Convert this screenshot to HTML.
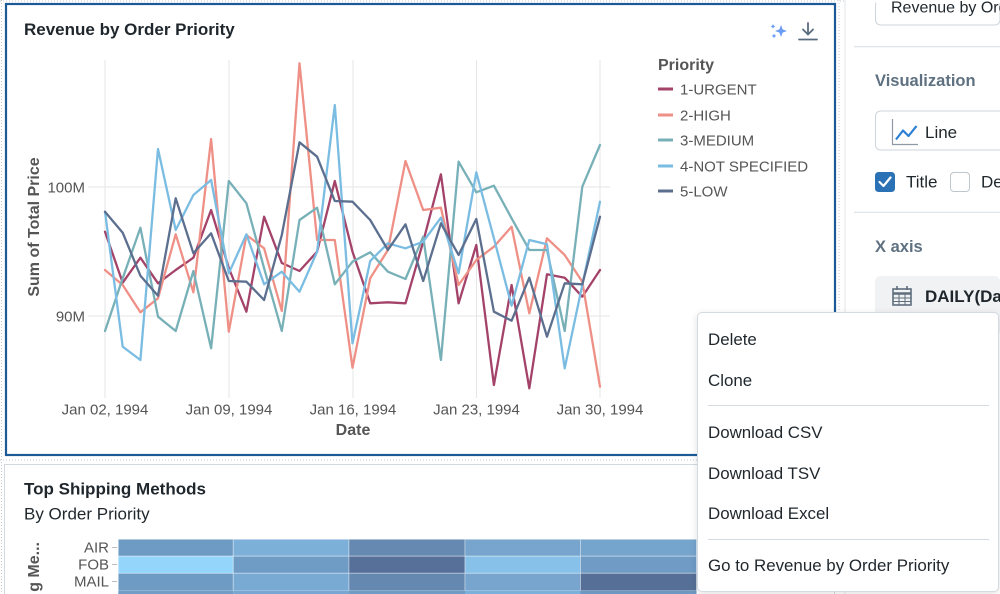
<!DOCTYPE html>
<html><head><meta charset="utf-8">
<style>
html,body{margin:0;padding:0;width:1000px;height:594px;overflow:hidden;}
body{position:relative;background:#fff;font-family:"Liberation Sans",Arial,sans-serif;}
.abs{position:absolute;display:block;}
.menu{position:absolute;left:697px;top:312px;width:300px;height:278px;background:#fff;border:1px solid #d3dae2;border-radius:5px;box-shadow:0 2px 8px rgba(0,0,0,0.12);overflow:hidden;}
.mi{position:absolute;left:10px;font-size:16.9px;color:#1f272d;line-height:20px;white-space:nowrap;}
.sep{position:absolute;left:10px;width:281px;height:1px;background:#d3dae2;}
</style></head>
<body>
<svg class="abs" style="left:0;top:0" width="1000" height="594" viewBox="0 0 1000 594">
  <line x1="0" y1="1" x2="845" y2="1" stroke="#c3c9d0" stroke-width="1" stroke-dasharray="1,2"/>
  <line x1="1.5" y1="0" x2="1.5" y2="594" stroke="#c3c9d0" stroke-width="1" stroke-dasharray="1,2"/>
  <line x1="0" y1="460" x2="840" y2="460" stroke="#c3c9d0" stroke-width="1" stroke-dasharray="1,2"/>
  <line x1="839" y1="0" x2="839" y2="594" stroke="#c3c9d0" stroke-width="1" stroke-dasharray="1,2"/>
  <line x1="845" y1="0" x2="845" y2="594" stroke="#e2e6ea" stroke-width="1"/>

  <rect x="6" y="4" width="829" height="451" fill="#fff" stroke="#1b5a96" stroke-width="2.2"/>
  <text x="24" y="35" font-size="17" font-weight="bold" fill="#1f272d">Revenue by Order Priority</text>

  <g fill="#6a9cf4">
    <path d="M781 25 L782.6 29.4 L787 31 L782.6 32.6 L781 37 L779.4 32.6 L775 31 L779.4 29.4 Z"/>
    <path d="M773 24 L773.8 25.6 L775.4 26.4 L773.8 27.2 L773 28.8 L772.2 27.2 L770.6 26.4 L772.2 25.6 Z"/>
    <path d="M774 33.5 L774.8 35.1 L776.4 35.9 L774.8 36.7 L774 38.3 L773.2 36.7 L771.6 35.9 L773.2 35.1 Z"/>
  </g>
  <g stroke="#5a6b7e" stroke-width="1.8" fill="none" stroke-linecap="round">
    <line x1="808" y1="23" x2="808" y2="34"/>
    <polyline points="803,29.5 808,34.5 813,29.5"/>
    <line x1="799" y1="39.5" x2="817" y2="39.5"/>
  </g>

  <g stroke="#e6e6e6" stroke-width="1">
    <line x1="88" y1="187" x2="610" y2="187"/>
    <line x1="88" y1="316" x2="610" y2="316"/>
    <line x1="105" y1="60" x2="105" y2="398"/>
    <line x1="229" y1="60" x2="229" y2="398"/>
    <line x1="353" y1="60" x2="353" y2="398"/>
    <line x1="476.5" y1="60" x2="476.5" y2="398"/>
    <line x1="600" y1="60" x2="600" y2="398"/>
  </g>
  <g font-size="15" fill="#555">
    <text x="85" y="192.5" text-anchor="end">100M</text>
    <text x="85" y="321.5" text-anchor="end">90M</text>
    <text x="105" y="414.5" text-anchor="middle">Jan 02, 1994</text>
    <text x="229" y="414.5" text-anchor="middle">Jan 09, 1994</text>
    <text x="353" y="414.5" text-anchor="middle">Jan 16, 1994</text>
    <text x="476.5" y="414.5" text-anchor="middle">Jan 23, 1994</text>
    <text x="600" y="414.5" text-anchor="middle">Jan 30, 1994</text>
  </g>
  <text x="353" y="435" font-size="16" font-weight="bold" fill="#555" text-anchor="middle">Date</text>
  <text transform="translate(39,227) rotate(-90)" font-size="16" font-weight="bold" fill="#555" text-anchor="middle">Sum of Total Price</text>

  <g fill="none" stroke-width="2.3" stroke-linejoin="round" stroke-linecap="round">
    <polyline stroke="#a4436a" points="105,231.7 122.7,282.7 140.4,257.7 158,283.3 175.7,270 193.4,257.7 211.1,210 228.8,268 246.4,311.7 264.1,216.7 281.8,263 299.5,271 317.1,251.7 334.8,181 352.5,251.7 370.2,303.3 387.9,302.3 405.5,303.3 423.2,241.7 440.9,174.3 458.6,303.3 476.3,245 493.9,385 511.6,285 529.3,388.3 547,274.3 564.7,277.7 582.3,296.7 600,270"/>
    <polyline stroke="#ef9087" points="105,270 122.7,285 140.4,312.3 158,298.3 175.7,234.3 193.4,292.3 211.1,139 228.8,331.7 246.4,235 264.1,248.3 281.8,311 299.5,63.3 317.1,240 334.8,240 352.5,367.7 370.2,278.3 387.9,250 405.5,161 423.2,210 440.9,207.7 458.6,285 476.3,260 493.9,246.7 511.6,226.7 529.3,313.3 547,238.3 564.7,255 582.3,281.7 600,386.7"/>
    <polyline stroke="#78b0b8" points="105,331 122.7,278.3 140.4,227.7 158,316.7 175.7,331 193.4,271 211.1,348.3 228.8,181 246.4,203.3 264.1,268.3 281.8,331 299.5,220 317.1,207.7 334.8,284.3 352.5,261.7 370.2,252.3 387.9,271.7 405.5,279 423.2,236.7 440.9,360 458.6,161.7 476.3,192.3 493.9,185.7 511.6,218.3 529.3,250 547,250 564.7,331 582.3,186.7 600,145"/>
    <polyline stroke="#7bbde2" points="105,211.7 122.7,346.7 140.4,360 158,149 175.7,230 193.4,195 211.1,180 228.8,273.3 246.4,234.3 264.1,284.3 281.8,271.7 299.5,291.7 317.1,251.7 334.8,105 352.5,343.3 370.2,261 387.9,243.3 405.5,248.3 423.2,241.7 440.9,217.7 458.6,273.3 476.3,172.3 493.9,238.3 511.6,305.7 529.3,240 547,244.3 564.7,368.3 582.3,285 600,201.7"/>
    <polyline stroke="#5c6f8f" points="105,211.7 122.7,232.7 140.4,275.7 158,295.7 175.7,198.3 193.4,253.3 211.1,233.3 228.8,281 246.4,281.7 264.1,300 281.8,235 299.5,142.3 317.1,156.7 334.8,201 352.5,201.7 370.2,220 387.9,250 405.5,224.3 423.2,281 440.9,223.3 458.6,255 476.3,219 493.9,311.7 511.6,320.7 529.3,277.7 547,336.7 564.7,283.3 582.3,284.3 600,216.7"/>
  </g>

  <text x="658" y="70" font-size="16" font-weight="bold" fill="#555">Priority</text>
  <g stroke-width="3">
    <line x1="658" y1="89" x2="673" y2="89" stroke="#a4436a"/>
    <line x1="658" y1="115" x2="673" y2="115" stroke="#ef9087"/>
    <line x1="658" y1="140" x2="673" y2="140" stroke="#78b0b8"/>
    <line x1="658" y1="166" x2="673" y2="166" stroke="#7bbde2"/>
    <line x1="658" y1="191" x2="673" y2="191" stroke="#5c6f8f"/>
  </g>
  <g font-size="15" fill="#555">
    <text x="680" y="94.5">1-URGENT</text>
    <text x="680" y="120.5">2-HIGH</text>
    <text x="680" y="145.5">3-MEDIUM</text>
    <text x="680" y="171.5">4-NOT SPECIFIED</text>
    <text x="680" y="196.5">5-LOW</text>
  </g>

  <path d="M4.5 594 L4.5 464.5 L834.5 464.5 L834.5 594" fill="#fff" stroke="#d3d9e0" stroke-width="1"/>
  <text x="24" y="494.5" font-size="17" font-weight="bold" fill="#1f272d">Top Shipping Methods</text>
  <text x="24" y="519.5" font-size="17" fill="#1f272d">By Order Priority</text>
  <text transform="translate(39,542) rotate(-90)" font-size="16" font-weight="bold" fill="#555" text-anchor="end">g Me...</text>
  <g font-size="15" fill="#555" text-anchor="end">
    <text x="109" y="552.5">AIR</text>
    <text x="109" y="569.5">FOB</text>
    <text x="109" y="586.5">MAIL</text>
  </g>
  <g stroke="#bbb" stroke-width="1">
    <line x1="112" y1="547.5" x2="117" y2="547.5"/>
    <line x1="112" y1="564.5" x2="117" y2="564.5"/>
    <line x1="112" y1="581.5" x2="117" y2="581.5"/>
  </g>
  <g stroke="rgba(255,255,255,0.35)" stroke-width="1">
    <rect x="118.3" y="539.3" width="115" height="16.9" fill="#6e9bc4"/>
    <rect x="233.3" y="539.3" width="115.7" height="16.9" fill="#7db0d9"/>
    <rect x="349" y="539.3" width="116" height="16.9" fill="#6589b1"/>
    <rect x="465" y="539.3" width="115.5" height="16.9" fill="#77a5ce"/>
    <rect x="580.5" y="539.3" width="116" height="16.9" fill="#75a4cc"/>
    <rect x="118.3" y="556.2" width="115" height="17.1" fill="#93d5fb"/>
    <rect x="233.3" y="556.2" width="115.7" height="17.1" fill="#6f9cc5"/>
    <rect x="349" y="556.2" width="116" height="17.1" fill="#56709a"/>
    <rect x="465" y="556.2" width="115.5" height="17.1" fill="#87c0e8"/>
    <rect x="580.5" y="556.2" width="116" height="17.1" fill="#6f9bc4"/>
    <rect x="118.3" y="573.3" width="115" height="17.4" fill="#6e9bc4"/>
    <rect x="233.3" y="573.3" width="115.7" height="17.4" fill="#79aad4"/>
    <rect x="349" y="573.3" width="116" height="17.4" fill="#6588b1"/>
    <rect x="465" y="573.3" width="115.5" height="17.4" fill="#77a5cd"/>
    <rect x="580.5" y="573.3" width="116" height="17.4" fill="#566f96"/>
  </g>
  <g>
    <rect x="118.3" y="590.7" width="115" height="3.3" fill="#6f9dc6"/>
    <rect x="233.3" y="590.7" width="115.7" height="3.3" fill="#78a8d1"/>
    <rect x="349" y="590.7" width="116" height="3.3" fill="#6f9cc4"/>
    <rect x="465" y="590.7" width="115.5" height="3.3" fill="#7ab0d9"/>
    <rect x="580.5" y="590.7" width="116" height="3.3" fill="#6c98c1"/>
  </g>

  <rect x="875.5" y="0" width="124.5" height="25" rx="5" fill="#fff" stroke="#cfd5db"/>
  <rect x="876" y="0" width="124" height="3" fill="#fff"/>
  <text x="891" y="12.5" font-size="16" fill="#1f272d">Revenue by Order Priority</text>
  <line x1="854" y1="46.7" x2="1000" y2="46.7" stroke="#d7dde3"/>
  <text x="875" y="86" font-size="16.5" font-weight="bold" fill="#5f7181">Visualization</text>
  <rect x="875.5" y="111" width="140" height="39" rx="5" fill="#fff" stroke="#cfd5db"/>
  <polyline points="892.5,119 892.5,144.5 918,144.5" fill="none" stroke="#8f9aa6" stroke-width="1.2"/>
  <polyline points="896,139.5 903,130.5 908.5,136 916.5,126" fill="none" stroke="#2b7fd4" stroke-width="2.2" stroke-linejoin="round"/>
  <text x="925" y="138" font-size="17" fill="#1f272d">Line</text>
  <rect x="875" y="172" width="20" height="20" rx="3.5" fill="#2a72b5"/>
  <polyline points="879.5,182 883.5,186 890.5,177.5" fill="none" stroke="#fff" stroke-width="2.2" stroke-linecap="round" stroke-linejoin="round"/>
  <text x="906" y="187.5" font-size="17" fill="#1f272d">Title</text>
  <rect x="950.5" y="172.5" width="19" height="19" rx="3.5" fill="#fff" stroke="#bfc6cd"/>
  <text x="981" y="187.5" font-size="17" fill="#1f272d">Description</text>
  <line x1="854" y1="212.3" x2="1000" y2="212.3" stroke="#d7dde3"/>
  <text x="875" y="252" font-size="16.5" font-weight="bold" fill="#5f7181">X axis</text>
  <rect x="875" y="276" width="125" height="60" rx="5" fill="#f1f2f4"/>
  <g fill="none" stroke="#5f6e7d" stroke-width="1.6">
    <rect x="893" y="289" width="18" height="16"/>
    <line x1="893" y1="293.5" x2="911" y2="293.5" stroke-width="2.5"/>
    <line x1="897" y1="286" x2="897" y2="290"/>
    <line x1="907" y1="286" x2="907" y2="290"/>
    <line x1="893" y1="298" x2="911" y2="298" stroke-width="1"/>
    <line x1="893" y1="301.5" x2="911" y2="301.5" stroke-width="1"/>
    <line x1="899" y1="294" x2="899" y2="305" stroke-width="1"/>
    <line x1="905" y1="294" x2="905" y2="305" stroke-width="1"/>
  </g>
  <text x="925" y="302" font-size="17" font-weight="bold" fill="#1f272d">DAILY(Date)</text>
</svg>

<div class="menu">
  <div class="mi" style="top:17px">Delete</div>
  <div class="mi" style="top:58px">Clone</div>
  <div class="sep" style="top:92px"></div>
  <div class="mi" style="top:110px">Download CSV</div>
  <div class="mi" style="top:151px">Download TSV</div>
  <div class="mi" style="top:191px">Download Excel</div>
  <div class="sep" style="top:226px"></div>
  <div class="mi" style="top:243px">Go to Revenue by Order Priority</div>
</div>
</body></html>
